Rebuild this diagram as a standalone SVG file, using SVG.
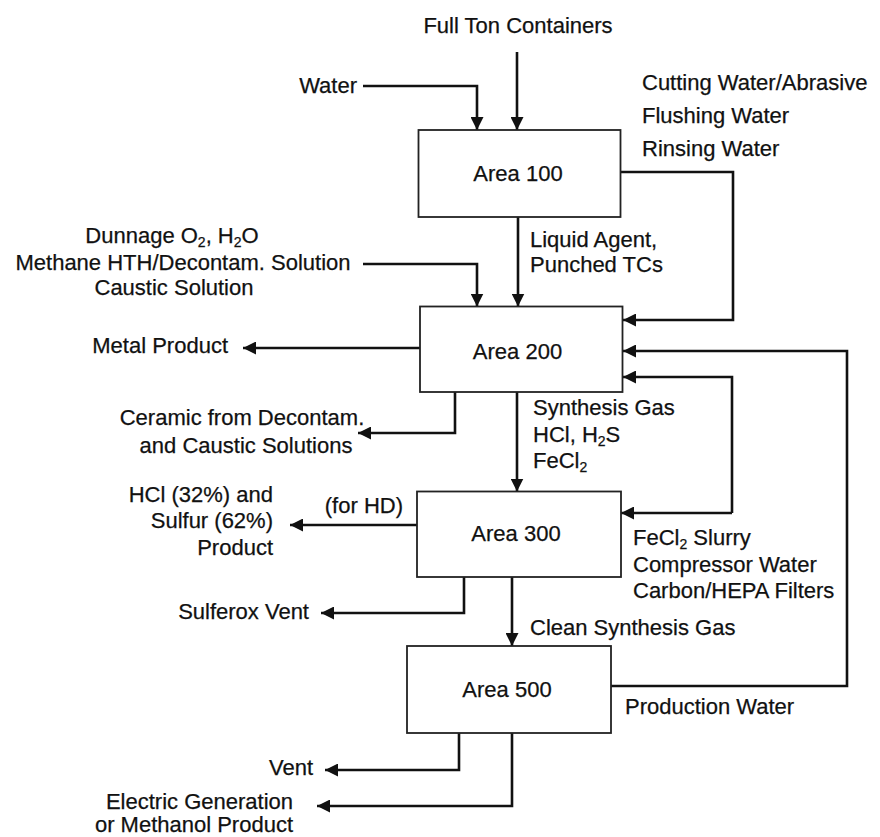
<svg xmlns="http://www.w3.org/2000/svg" width="880" height="837" viewBox="0 0 880 837">
  <defs>
    <marker id="arrow" markerUnits="userSpaceOnUse" markerWidth="14" markerHeight="13" refX="13" refY="6.5" orient="auto">
      <path d="M0,0 L13,6.5 L0,13 Z" fill="#111"/>
    </marker>
    <style>
      .box { fill: #fff; stroke: #222; stroke-width: 1.8; }
      .flow { fill: none; stroke: #111; stroke-width: 2.6; marker-end: url(#arrow); }
      text { font-family: "Liberation Sans", Arial, sans-serif; font-size: 22px; fill: #111; stroke: #111; stroke-width: 0.25; }
      .mid { text-anchor: middle; }
      .end { text-anchor: end; }
      .sub { font-size: 14px; }
    </style>
  </defs>
  <rect width="880" height="837" fill="#fff"/>

  <!-- connectors -->
  <g id="connectors">
    <path class="flow" d="M363,86 H477 V130"/>
    <path class="flow" d="M517,52 V130"/>
    <path class="flow" d="M621,172 H733 V320 H623"/>
    <path class="flow" d="M518,217 V306.5"/>
    <path class="flow" d="M363,264 H477 V306.5"/>
    <path class="flow" d="M420,348 H243"/>
    <path class="flow" d="M517,392 V491.5"/>
    <path class="flow" d="M455,392 V433 H358"/>
    <path class="flow" d="M732,513 V377 H623"/>
    <path class="flow" d="M732,513 H621"/>
    <path class="flow" d="M611,686 H847 V351 H623"/>
    <path class="flow" d="M417,525 H290"/>
    <path class="flow" d="M464,577 V613 H321"/>
    <path class="flow" d="M512,577 V646"/>
    <path class="flow" d="M459,733 V770 H325"/>
    <path class="flow" d="M512,733 V806 H317"/>
  </g>

  <!-- process areas -->
  <g id="area100">
    <rect class="box" x="418.5" y="130" width="202" height="87"/>
    <text class="mid" x="518" y="181">Area 100</text>
  </g>
  <g id="area200">
    <rect class="box" x="420" y="306.5" width="202.5" height="85.5"/>
    <text class="mid" x="517.5" y="359">Area 200</text>
  </g>
  <g id="area300">
    <rect class="box" x="417" y="491.5" width="204" height="85.5"/>
    <text class="mid" x="516" y="541">Area 300</text>
  </g>
  <g id="area500">
    <rect class="box" x="407" y="646" width="204" height="87"/>
    <text class="mid" x="507" y="697">Area 500</text>
  </g>

  <!-- stream labels -->
  <g id="labels">
    <text class="mid" x="518" y="33">Full Ton Containers</text>
    <text class="end" x="357" y="93">Water</text>
    <text x="642" y="90">Cutting Water/Abrasive</text>
    <text x="642" y="123">Flushing Water</text>
    <text x="642" y="156">Rinsing Water</text>
    <text x="530" y="247">Liquid Agent,</text>
    <text x="530" y="272">Punched TCs</text>

    <text class="mid" x="172" y="243">Dunnage O<tspan class="sub" dy="4">2</tspan><tspan dy="-4">, H</tspan><tspan class="sub" dy="4">2</tspan><tspan dy="-4">O</tspan></text>
    <text class="mid" x="183" y="270">Methane HTH/Decontam. Solution</text>
    <text class="mid" x="174" y="295">Caustic Solution</text>
    <text class="end" x="228" y="353">Metal Product</text>

    <text x="533" y="415">Synthesis Gas</text>
    <text x="533" y="442">HCl, H<tspan class="sub" dy="4">2</tspan><tspan dy="-4">S</tspan></text>
    <text x="533" y="468">FeCl<tspan class="sub" dy="4">2</tspan></text>

    <text class="mid" x="242" y="425">Ceramic from Decontam.</text>
    <text class="mid" x="246" y="453">and Caustic Solutions</text>

    <text class="end" x="273" y="502">HCl (32%) and</text>
    <text class="end" x="273" y="528">Sulfur (62%)</text>
    <text class="end" x="273" y="555">Product</text>
    <text class="end" x="403" y="513">(for HD)</text>

    <text x="633" y="545">FeCl<tspan class="sub" dy="4">2</tspan><tspan dy="-4"> Slurry</tspan></text>
    <text x="633" y="572">Compressor Water</text>
    <text x="633" y="598">Carbon/HEPA Filters</text>

    <text class="end" x="309" y="619">Sulferox Vent</text>
    <text x="530" y="635">Clean Synthesis Gas</text>
    <text x="625" y="714">Production Water</text>

    <text class="end" x="313" y="775">Vent</text>
    <text class="end" x="293" y="809">Electric Generation</text>
    <text class="end" x="293" y="832">or Methanol Product</text>
  </g>
</svg>
